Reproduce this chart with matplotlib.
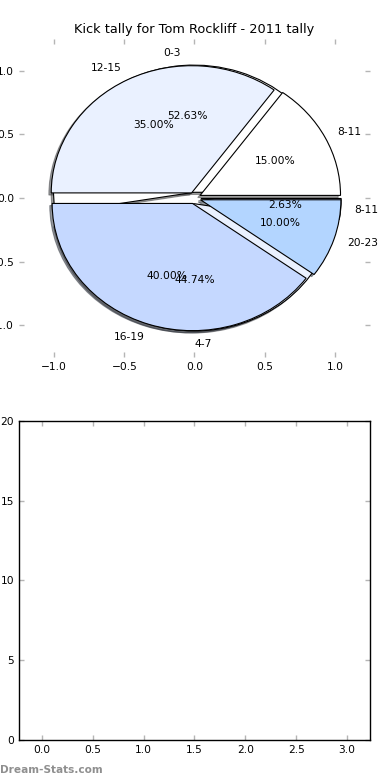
import matplotlib
matplotlib.use('Agg')
import matplotlib.pyplot as plt

matplotlib.rcParams['font.family'] = 'DejaVu Sans'
matplotlib.rcParams['font.size'] = 7.7

# kicks per quarter-range, split into the two pies drawn on the same axes
labels_a = ['0-3', '4-7', '8-11']
kicks_a = [20, 17, 1]
labels_b = ['8-11', '12-15', '16-19', '20-23']
kicks_b = [3, 7, 8, 2]
pie_colors = ['#FFFFFF', '#EAF1FF', '#C5D8FF', '#B3D5FF']

pie_ticks = [-1.0, -0.5, 0.0, 0.5, 1.0]
bottom_xticks = [0.0, 0.5, 1.0, 1.5, 2.0, 2.5, 3.0]
bottom_yticks = [0, 5, 10, 15, 20]

fig = plt.figure(figsize=(3.9, 7.8), dpi=100)
ax = fig.add_axes([0.0487, 0.5423, 0.9, 0.4077])
ax2 = fig.add_axes([0.0487, 0.0513, 0.9, 0.4090])

wp = {'linewidth': 0.8, 'edgecolor': 'black'}
shad = {'ox': -0.012, 'oy': -0.012, 'shade': 0.75}
ax.pie(kicks_a, labels=labels_a, colors=pie_colors[:len(kicks_a)],
       explode=[0.045] * len(kicks_a), autopct='%1.2f%%', shadow=shad,
       startangle=0, wedgeprops=wp)
ax.pie(kicks_b, labels=labels_b, colors=pie_colors[:len(kicks_b)],
       explode=[0.045] * len(kicks_b), autopct='%1.2f%%', shadow=shad,
       startangle=0, wedgeprops=wp)
ax.set_aspect('auto')
ax.set_frame_on(False)
ax.set_xlim(-1.25, 1.25)
ax.set_ylim(-1.25, 1.25)
ax.set_xticks(pie_ticks)
ax.set_yticks(pie_ticks)
ax.set_title('Kick tally for Tom Rockliff - 2011 tally', fontsize=9.3, pad=4)

ax2.set_xlim(-0.225, 3.225)
ax2.set_ylim(0, 20)
ax2.set_xticks(bottom_xticks)
ax2.set_yticks(bottom_yticks)
for s in ax2.spines.values():
    s.set_linewidth(1.0)

for a in (ax, ax2):
    a.tick_params(direction='in', length=3.5, width=1, color='#b5b5b5',
                  top=True, right=True, pad=3.5, labelsize=7.7)

fig.text(0.0, 0.006, 'Dream-Stats.com', color='#8f8f8f', fontsize=7.6,
         fontweight='bold', ha='left', va='bottom')

plt.savefig('out.png', dpi=100)
